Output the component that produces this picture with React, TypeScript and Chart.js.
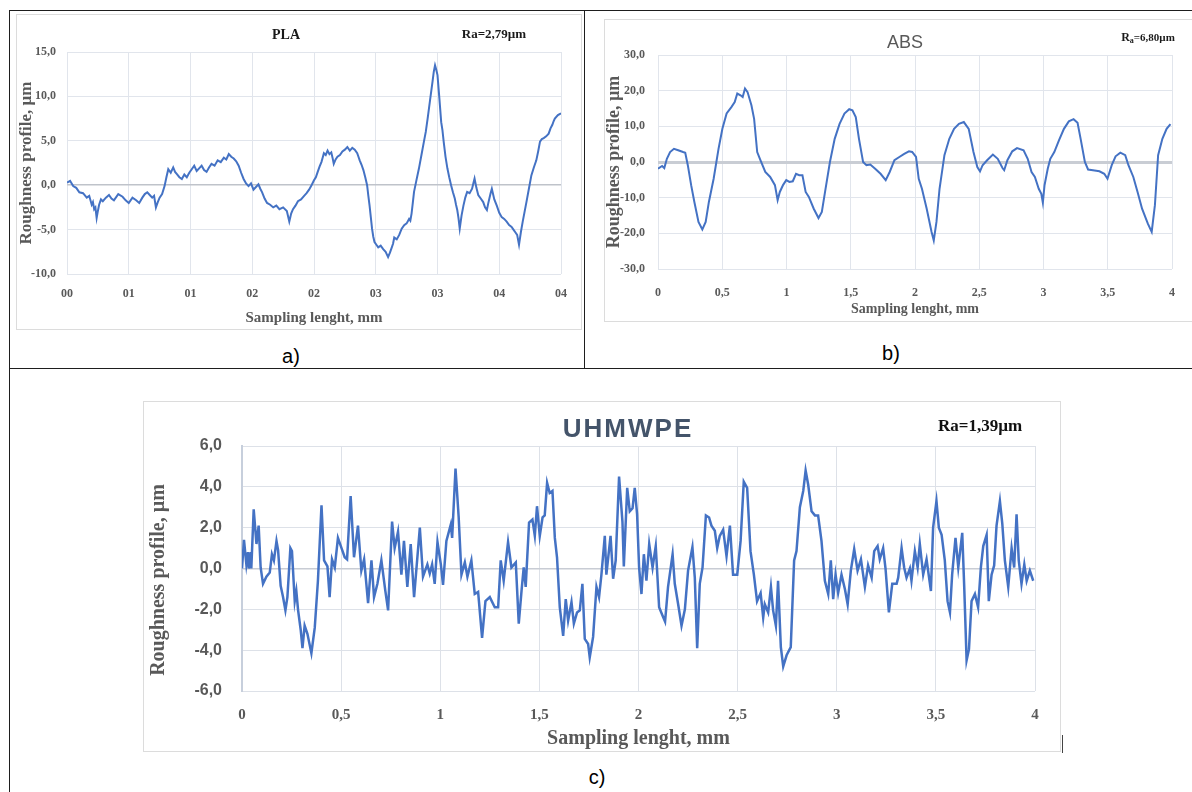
import React, { useEffect, useRef } from "react";
import { Chart, registerables } from "chart.js";
Chart.register(...registerables);

// ---------- DATA ----------
const plaTickLabels = ["00", "01", "01", "02", "02", "03", "03", "04", "04"];
const mmTickLabels = ["0", "0,5", "1", "1,5", "2", "2,5", "3", "3,5", "4"];

const plaX = [0.00,0.025,0.05,0.075,0.10,0.13,0.16,0.18,0.20,0.21,0.22,0.23,0.24,0.25,0.26,0.275,0.29,0.315,0.34,0.36,0.38,0.415,0.45,0.475,0.50,0.53,0.56,0.585,0.61,0.63,0.65,0.67,0.69,0.705,0.72,0.735,0.75,0.77,0.79,0.805,0.82,0.84,0.86,0.875,0.89,0.91,0.93,0.95,0.97,0.99,
  1.01,1.03,1.05,1.07,1.09,1.11,1.13,1.15,1.17,1.195,1.22,1.245,1.27,1.29,1.31,1.33,1.35,1.37,1.39,1.41,1.43,1.45,1.47,1.49,1.51,1.53,1.55,1.565,1.58,1.60,1.62,1.645,1.67,1.695,1.72,1.75,1.78,1.79,1.80,1.815,1.83,1.85,1.87,1.895,1.92,1.94,1.96,1.98,
  2.00,2.015,2.03,2.045,2.06,2.07,2.08,2.095,2.11,2.125,2.14,2.15,2.16,2.175,2.19,2.21,2.23,2.25,2.27,2.29,2.31,2.33,2.35,2.36,2.37,2.385,2.40,2.415,2.43,2.44,2.45,2.46,2.47,2.48,2.49,2.505,2.52,2.54,2.56,2.58,2.60,2.615,2.63,2.64,2.65,2.67,2.69,2.71,2.73,2.75,2.77,2.78,2.79,2.80,2.81,2.83,2.85,2.87,2.89,2.905,2.92,2.94,2.96,2.97,2.98,2.99,
  3.00,3.015,3.03,3.04,3.05,3.065,3.08,3.095,3.11,3.125,3.14,3.15,3.16,3.17,3.18,3.195,3.21,3.225,3.24,3.26,3.28,3.29,3.30,3.315,3.33,3.35,3.37,3.385,3.40,3.41,3.42,3.43,3.44,3.46,3.48,3.50,3.52,3.54,3.56,3.58,3.60,3.615,3.63,3.645,3.66,3.675,3.69,3.705,3.72,3.74,3.76,3.78,3.80,3.815,3.83,3.845,3.86,3.88,3.90,3.915,3.93,3.94,3.95,3.975,4.00];
const plaY = [0.3,0.5,-0.1,-0.3,-0.8,-0.9,-1.4,-1.2,-2.2,-1.9,-2.7,-2.5,-3.7,-2.9,-2.2,-1.6,-1.8,-1.4,-1.1,-1.5,-1.7,-1.0,-1.3,-1.7,-2.0,-1.4,-1.7,-2.0,-1.4,-1.0,-0.8,-1.1,-1.4,-1.2,-2.5,-1.9,-1.4,-1.0,-0.1,0.9,1.8,1.4,2.0,1.5,1.25,0.9,0.7,1.2,0.9,1.4,
  1.8,2.2,1.6,1.9,2.2,1.7,1.5,2.0,2.4,2.2,2.8,2.6,3.1,2.9,3.5,3.2,3.0,2.7,2.2,1.4,0.7,0.2,-0.1,0.2,-0.5,-0.2,0.1,-0.4,-0.8,-1.5,-2.0,-2.2,-2.5,-2.3,-2.7,-2.5,-2.9,-3.5,-4.1,-3.2,-2.7,-2.3,-1.8,-1.6,-1.2,-0.9,-0.5,0.0,
  0.55,0.9,1.5,2.1,2.6,3.1,3.6,3.4,3.9,3.5,3.7,3.1,2.4,2.9,3.2,3.4,3.8,4.0,4.3,3.9,4.2,4.0,3.6,3.2,2.8,2.3,1.7,0.9,0,-1.2,-2.3,-3.6,-4.9,-5.8,-6.4,-6.7,-7.0,-6.8,-7.2,-7.5,-8.1,-7.6,-7.0,-6.6,-5.9,-6.1,-5.6,-4.9,-4.5,-4.3,-3.8,-4.0,-3.2,-2.0,-0.75,0.6,1.9,3.4,4.9,6.0,7.5,9.6,11.7,12.8,13.5,13.0,
  12.4,9.8,7.1,6.2,4.9,3.2,1.9,0.9,0,-0.8,-1.5,-2.2,-2.8,-3.7,-4.9,-3.4,-2.3,-1.4,-0.75,-0.9,-0.4,0.2,0.75,-0.3,-1.1,-1.5,-1.9,-2.5,-2.8,-2.1,-1.5,-0.9,-0.4,-1.6,-2.3,-3.1,-3.6,-3.8,-4.1,-4.5,-4.7,-5.0,-5.3,-5.6,-6.7,-5.3,-4.1,-3.0,-1.9,-0.4,1.1,2.0,2.8,3.8,4.9,5.2,5.3,5.5,5.8,6.4,6.8,7.2,7.5,7.9,8.1];

const absX = [0.000,0.032,0.049,0.069,0.094,0.124,0.157,0.195,0.212,0.232,0.258,0.283,0.315,0.345,0.371,0.396,0.433,0.471,0.501,0.534,0.571,0.597,0.617,0.642,0.659,0.677,0.697,0.727,0.748,0.772,0.797,0.835,0.873,0.910,0.931,0.948,0.974,0.998,1.023,1.049,1.074,1.099,1.124,1.149,1.174,1.212,1.249,1.275,1.300,1.338,1.375,1.413,1.451,1.488,1.513,1.539,1.564,1.596,1.622,1.652,1.690,1.732,1.772,1.803,1.840,1.878,1.916,1.953,
  1.978,2.008,2.029,2.054,2.091,2.129,2.146,2.167,2.191,2.229,2.267,2.304,2.342,2.380,2.418,2.455,2.485,2.506,2.526,2.561,2.606,2.644,2.681,2.694,2.719,2.757,2.794,2.845,2.877,2.907,2.933,2.963,2.983,2.995,3.008,3.033,3.053,3.084,3.121,3.159,3.197,3.234,3.265,3.289,3.322,3.347,3.385,3.435,3.473,3.498,3.531,3.561,3.598,3.636,3.661,3.699,3.732,3.767,3.812,3.842,3.867,3.892,3.925,3.958,3.988];
const absY = [-1.9,-1.1,-1.7,0.9,2.8,3.7,3.3,2.8,2.6,-0.9,-6.5,-11.2,-16.8,-18.9,-16.8,-11.2,-4.7,3.7,9.3,13.6,15.4,16.8,19.2,18.7,18.2,20.6,19.6,15.9,12.1,2.8,0.5,-2.8,-4.2,-6.5,-10.7,-8.4,-6.4,-5.1,-5.6,-5.4,-3.3,-3.7,-3.7,-8.4,-9.8,-13.1,-15.7,-14.0,-8.4,0,6.5,10.7,13.6,14.8,14.5,12.6,6.5,0,-0.9,-0.7,-1.9,-3.3,-5.1,-2.8,0.5,1.4,2.3,3.0,
  2.8,1.4,-4.7,-7.5,-13.1,-19.6,-22,-16.8,-7.5,1.9,6.5,9.3,10.7,11.2,9.3,2.8,-1.4,-2.6,-0.9,0.5,2.1,0.9,-1.7,-2.3,0.5,3.0,3.9,3.3,0.9,-2.8,-4.2,-7.5,-8.9,-11.4,-6.5,-1.9,0.9,2.8,6.1,9.3,11.4,12.0,11.0,6.5,0,-2.1,-2.3,-2.6,-3.3,-4.7,-0.9,1.6,2.6,1.9,-0.9,-4.2,-8.4,-13.1,-17.3,-19.6,-12.1,1.9,6.5,9.3,10.6];

const uhmX = [0.000,0.010,0.022,0.030,0.034,0.044,0.047,0.059,0.073,0.084,0.094,0.106,0.123,0.140,0.151,0.161,0.174,0.182,0.195,0.207,0.219,0.229,0.244,0.252,0.266,0.274,0.283,0.296,0.305,0.316,0.330,0.350,0.367,0.383,0.401,0.414,0.431,0.442,0.454,0.468,0.484,0.502,0.518,0.530,0.548,0.565,0.585,0.602,0.616,0.636,0.653,0.666,0.683,0.703,0.723,0.737,0.757,0.770,0.787,0.804,0.817,0.834,0.851,0.868,0.897,0.913,0.935,0.947,0.959,0.972,0.986,1.003,1.014,1.031,1.053,1.060,1.077,1.093,1.107,1.124,1.137,1.157,1.174,1.191,1.211,1.228,1.250,1.275,1.292,
  1.305,1.320,1.342,1.359,1.381,1.396,1.410,1.421,1.431,1.448,1.465,1.477,1.488,1.502,1.516,1.527,1.539,1.552,1.566,1.578,1.589,1.603,1.620,1.633,1.645,1.662,1.674,1.690,1.704,1.717,1.729,1.746,1.754,1.771,1.788,1.801,1.813,1.830,1.838,1.859,1.872,1.885,1.902,1.919,1.926,1.943,1.956,1.970,1.981,1.993,2.003,2.015,2.027,2.040,2.054,2.071,2.087,2.104,2.121,2.134,2.149,2.172,2.183,2.200,2.217,2.234,2.250,2.272,2.284,2.296,2.309,2.323,2.340,2.356,2.368,2.385,2.397,2.410,2.427,2.444,2.461,2.477,2.498,2.515,2.531,2.548,2.565,2.582,2.598,2.616,2.629,
  2.637,2.654,2.668,2.679,2.693,2.704,2.718,2.730,2.747,2.768,2.785,2.797,2.814,2.831,2.843,2.856,2.873,2.890,2.906,2.923,2.940,2.957,2.970,2.982,2.994,3.007,3.024,3.041,3.055,3.071,3.088,3.105,3.122,3.142,3.158,3.176,3.189,3.206,3.217,3.234,3.246,3.263,3.280,3.302,3.310,3.327,3.340,3.352,3.369,3.377,3.394,3.408,3.419,3.436,3.453,3.475,3.486,3.503,3.515,3.529,3.545,3.559,3.571,3.582,3.599,3.613,3.633,3.643,3.655,3.667,3.680,3.697,3.713,3.727,3.739,3.756,3.767,3.781,3.794,3.806,3.823,3.835,3.848,3.865,3.882,3.895,3.907,3.918,3.932,3.946,3.958,3.974,3.991];
const uhmY = [0.0,1.4,0.2,0.8,0.0,0.8,0.0,2.9,1.2,2.1,0.05,-0.75,-0.4,-0.2,0.7,0.4,1.35,0.9,-0.85,-1.4,-2.05,-1.4,1.0,0.85,-1.6,-1.1,-2.05,-3.0,-3.9,-2.8,-3.2,-4.15,-2.9,-0.6,3.1,0.4,0.1,-1.4,0.45,0.05,1.5,1.0,0.55,0.45,3.55,0.55,2.1,-0.1,0.45,-1.7,0.4,-1.4,-0.75,0.4,-1.1,-2.05,2.3,1.0,1.8,-0.3,1.35,-0.9,1.2,-1.4,2.0,-0.4,0.2,-0.25,0.2,-0.75,1.3,0.2,-0.8,1.35,2.15,1.5,4.9,2.5,-0.3,0.3,-0.4,0.4,-1.25,-1.15,-3.4,-1.6,-1.4,-1.9,-1.9,
  0.4,-0.6,1.3,0.05,0.3,-2.7,-1.1,0.05,-0.9,2.25,2.4,1.6,3.05,1.6,2.5,2.6,4.2,3.7,3.8,1.5,0.55,-1.9,-3.3,-1.5,-2.55,-1.65,-2.7,-2.15,-2.05,-0.75,-3.45,-3.7,-4.35,-3.35,-0.9,-1.4,-0.3,1.6,-0.3,1.6,-0.5,0.4,4.5,2.3,0.1,3.95,2.8,2.95,3.95,2.65,0.05,-1.25,0.7,-0.6,1.2,0.05,1.1,-1.9,-2.3,-2.6,-0.9,0.7,-0.75,-1.75,-2.8,-2.0,-0.1,1.05,-0.45,-3.9,-0.75,0.05,2.6,2.5,2.1,1.85,1.0,1.6,1.9,0.6,2.1,-0.3,-0.3,1.35,4.25,3.95,0.85,-0.3,-1.6,-1.2,-2.4,
  -1.75,-2.15,-0.9,-2.05,-2.8,-0.6,-3.85,-4.8,-4.25,-3.85,0.4,0.85,3.0,3.8,4.8,4.1,2.8,2.6,2.6,1.35,-0.6,-1.25,0.4,-1.5,-0.3,-1.2,-0.3,-1.0,-1.75,-0.1,0.95,-0.1,0.45,-0.9,0.15,-0.45,0.85,1.1,0.45,1.0,0,-2.15,-0.75,-0.75,-0.45,1.0,0.05,-0.45,0,-0.6,0.85,0.05,1.2,-0.3,0.45,-1.1,2.0,3.3,2.0,1.65,0.4,-1.6,-2.15,-0.3,1.5,0.05,1.75,-0.9,-4.5,-3.95,-1.6,-1.25,-1.9,0.05,1.1,1.65,-1.6,-0.3,0.15,2.1,3.3,2.2,0.4,-0.9,1.0,0.05,2.65,0.4,-0.75,0.2,-0.6,-0.1,-0.6];

// ---------- STYLE ----------
const BLUE = "#4472C4";
const SERIF = '"Liberation Serif", "Times New Roman", serif';
const SANS = '"Liberation Sans", Arial, sans-serif';
const GRAY = "#595959";

type Part = { text: string; font: string; color: string; dy?: number; spacing?: string };
type TextItem = { x: number; y: number; rotate?: boolean; parts: Part[] };

function makeTextPlugin(items: TextItem[]) {
  return {
    id: "panelTexts",
    afterDraw(chart: any) {
      const ctx = chart.ctx as CanvasRenderingContext2D;
      items.forEach((it) => {
        ctx.save();
        ctx.textBaseline = "middle";
        ctx.textAlign = "left";
        let total = 0;
        const widths = it.parts.map((p) => {
          ctx.font = p.font;
          (ctx as any).letterSpacing = p.spacing || "0px";
          const w = ctx.measureText(p.text).width;
          total += w;
          return w;
        });
        ctx.translate(it.x, it.y);
        if (it.rotate) ctx.rotate(-Math.PI / 2);
        let x = -total / 2;
        it.parts.forEach((p, i) => {
          ctx.font = p.font;
          (ctx as any).letterSpacing = p.spacing || "0px";
          ctx.fillStyle = p.color;
          ctx.fillText(p.text, x, p.dy || 0);
          x += widths[i];
        });
        ctx.restore();
      });
    },
  };
}

type Opts = {
  xs: number[]; ys: number[];
  yMin: number; yMax: number; yStep: number;
  xLabels: string[];
  padding: { left: number; top: number; right: number; bottom: number };
  yAxisWidth: number; xAxisHeight: number;
  xTickFont: any; yTickFont: any; xTickPad: number; yTickPad: number;
  xTitleFont: any; xTitlePadBottom: number;
  yTitleFont: any; yTitlePadTop: number; yTitleInScale: boolean;
  gridColor: string; zeroColor: string; zeroWidth: number;
  yBorder?: { color: string; width: number };
  lineWidth: number;
  texts: TextItem[];
};

function buildConfig(o: Opts): any {
  return {
    type: "line",
    data: {
      datasets: [
        {
          data: o.xs.map((x, i) => ({ x, y: o.ys[i] })),
          borderColor: BLUE,
          borderWidth: o.lineWidth,
          pointRadius: 0,
          tension: 0,
          fill: false,
        },
      ],
    },
    options: {
      responsive: false,
      animation: false,
      devicePixelRatio: 1,
      layout: { padding: o.padding },
      plugins: { legend: { display: false }, tooltip: { enabled: false }, title: { display: false } },
      scales: {
        x: {
          type: "linear",
          min: 0,
          max: 4,
          afterFit: (s: any) => { s.height = o.xAxisHeight; },
          ticks: {
            stepSize: 0.5,
            autoSkip: false,
            maxRotation: 0,
            minRotation: 0,
            padding: o.xTickPad,
            font: o.xTickFont,
            color: GRAY,
            callback: (_v: any, i: number) => o.xLabels[i],
          },
          grid: { color: o.gridColor, lineWidth: 1, drawTicks: false },
          border: { display: false },
          title: {
            display: true,
            text: "Sampling lenght, mm",
            font: o.xTitleFont,
            color: GRAY,
            padding: { top: 0, bottom: o.xTitlePadBottom },
          },
        },
        y: {
          type: "linear",
          min: o.yMin,
          max: o.yMax,
          afterFit: (s: any) => { s.width = o.yAxisWidth; },
          ticks: {
            stepSize: o.yStep,
            padding: o.yTickPad,
            font: o.yTickFont,
            color: GRAY,
            callback: (v: any) => Number(v).toFixed(1).replace(".", ","),
          },
          grid: {
            color: (c: any) => (c.tick && c.tick.value === 0 ? o.zeroColor : o.gridColor),
            lineWidth: (c: any) => (c.tick && c.tick.value === 0 ? o.zeroWidth : 1),
            drawTicks: false,
          },
          border: o.yBorder
            ? { display: true, color: o.yBorder.color, width: o.yBorder.width }
            : { display: false },
          title: {
            display: o.yTitleInScale,
            text: "Roughness profile, µm",
            font: o.yTitleFont,
            color: GRAY,
            padding: { top: o.yTitlePadTop, bottom: 0 },
          },
        },
      },
    },
    plugins: [makeTextPlugin(o.texts)],
  };
}

function ChartCanvas({ left, top, width, height, config }: { left: number; top: number; width: number; height: number; config: any }) {
  const ref = useRef<HTMLCanvasElement>(null);
  useEffect(() => {
    const chart = new Chart(ref.current as HTMLCanvasElement, config);
    return () => chart.destroy();
  }, []);
  return (
    <canvas
      ref={ref}
      width={width}
      height={height}
      style={{ position: "absolute", left, top, width, height }}
    />
  );
}

const serifBold = (size: number) => ({ family: SERIF, size, weight: "bold" });
const sansBold = (size: number) => ({ family: SANS, size, weight: "bold" });

// Chart a (PLA): canvas at (16,20) 564x310
const plaConfig = buildConfig({
  xs: plaX, ys: plaY, yMin: -10, yMax: 15, yStep: 5, xLabels: plaTickLabels,
  padding: { left: 0, top: 32, right: 12, bottom: 0 },
  yAxisWidth: 51, xAxisHeight: 56,
  xTickFont: serifBold(12), yTickFont: serifBold(12), xTickPad: 13, yTickPad: 11,
  xTitleFont: serifBold(15), xTitlePadBottom: 3,
  yTitleFont: serifBold(17), yTitlePadTop: 0, yTitleInScale: true,
  gridColor: "#e1e5ec", zeroColor: "#bfc3ca", zeroWidth: 1.5,
  lineWidth: 2,
  texts: [
    { x: 270, y: 15, parts: [{ text: "PLA", font: `bold 14px ${SERIF}`, color: "#1a1a1a" }] },
    { x: 478, y: 15, parts: [{ text: "Ra=2,79µm", font: `bold 13px ${SERIF}`, color: "#1a1a1a" }] },
  ],
});

// Chart b (ABS): canvas at (604,20) 588x302
const absConfig = buildConfig({
  xs: absX, ys: absY, yMin: -30, yMax: 30, yStep: 10, xLabels: mmTickLabels,
  padding: { left: 0, top: 35, right: 5, bottom: 0 },
  yAxisWidth: 54, xAxisHeight: 53,
  xTickFont: serifBold(12), yTickFont: serifBold(12), xTickPad: 17, yTickPad: 13,
  xTitleFont: serifBold(14), xTitlePadBottom: 4,
  yTitleFont: serifBold(18), yTitlePadTop: 0, yTitleInScale: true,
  gridColor: "#e1e5ec", zeroColor: "#c9cdd4", zeroWidth: 3,
  lineWidth: 2,
  texts: [
    { x: 301, y: 23, parts: [{ text: "ABS", font: `18px ${SANS}`, color: GRAY }] },
    {
      x: 544, y: 18,
      parts: [
        { text: "R", font: `bold 12px ${SERIF}`, color: "#1a1a1a" },
        { text: "a", font: `bold 8px ${SERIF}`, color: "#1a1a1a", dy: 3 },
        { text: "=6,80µm", font: `bold 11px ${SERIF}`, color: "#1a1a1a" },
      ],
    },
  ],
});

// Chart c (UHMWPE): canvas at (143,402) 918x350
const uhmConfig = buildConfig({
  xs: uhmX, ys: uhmY, yMin: -6, yMax: 6, yStep: 2, xLabels: mmTickLabels,
  padding: { left: 0, top: 44, right: 26, bottom: 0 },
  yAxisWidth: 99, xAxisHeight: 61,
  xTickFont: serifBold(15), yTickFont: sansBold(16), xTickPad: 15, yTickPad: 20,
  xTitleFont: serifBold(20), xTitlePadBottom: 1,
  yTitleFont: serifBold(20), yTitlePadTop: 5, yTitleInScale: false,
  gridColor: "#dde1e8", zeroColor: "#c8ccd4", zeroWidth: 1.5,
  yBorder: { color: "#c7cfdc", width: 2 },
  lineWidth: 2.5,
  texts: [
    { x: 485, y: 28, parts: [{ text: "UHMWPE", font: `bold 26px ${SANS}`, color: "#44546A", spacing: "2px" }] },
    { x: 837, y: 25, parts: [{ text: "Ra=1,39µm", font: `bold 17px ${SERIF}`, color: "#111" }] },
    { x: 16, y: 178, rotate: true, parts: [{ text: "Roughness profile, µm", font: `bold 20px ${SERIF}`, color: GRAY }] },
  ],
});

const line = (left: number, top: number, width: number, height: number, color = "#1e1e1e") => (
  <div style={{ position: "absolute", left, top, width, height, background: color }} />
);

const box = (left: number, top: number, width: number, height: number) => (
  <div
    style={{
      position: "absolute", left, top, width, height,
      border: "1px solid #dcdcdc", boxSizing: "border-box", background: "#fff",
    }}
  />
);

const panelLabel = (text: string, cx: number, cy: number) => (
  <div
    style={{
      position: "absolute", left: cx - 30, top: cy - 14, width: 60, height: 28,
      lineHeight: "28px", textAlign: "center", fontFamily: SANS, fontSize: 20, color: "#000",
    }}
  >
    {text}
  </div>
);

export default function App() {
  return (
    <div style={{ position: "absolute", left: 0, top: 0, width: 1192, height: 792, background: "#fff", overflow: "hidden" }}>
      {box(16, 14, 566, 316)}
      {box(604, 19, 600, 303)}
      {box(143, 401, 918, 351)}
      {line(1062, 735, 1, 18, "#444")}
      {line(9, 10, 1183, 1)}
      {line(9, 10, 1, 782)}
      {line(584, 10, 1, 358)}
      {line(9, 368, 1183, 1)}
      <ChartCanvas left={16} top={20} width={564} height={310} config={plaConfig} />
      <ChartCanvas left={604} top={20} width={588} height={302} config={absConfig} />
      <ChartCanvas left={143} top={402} width={918} height={350} config={uhmConfig} />
      {panelLabel("a)", 291, 356)}
      {panelLabel("b)", 891, 353)}
      {panelLabel("c)", 597, 777)}
    </div>
  );
}
